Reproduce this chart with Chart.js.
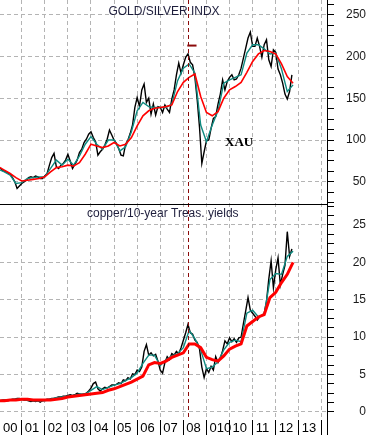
<!DOCTYPE html>
<html>
<head>
<meta charset="utf-8">
<script src="https://cdn.jsdelivr.net/npm/chart.js@4.4.1/dist/chart.umd.min.js"></script>
<style>
  html, body { margin: 0; padding: 0; background: #fff; }
</style>
</head>
<body>
<canvas id="grafico" width="373" height="435"></canvas>
<script>
/* ---- data ---- */
const startYear = 2000;
const fineStep = 0.1;    // black price line, one value every 0.1 year
const coarseStep = 0.25; // moving averages, one value per quarter

const yearTicks  = [2000, 2001, 2002, 2003, 2004, 2005, 2006, 2007, 2008, 2009, 2010, 2011, 2012, 2013, 2014];
const yearLabels = ['00', '01', '02', '03', '04', '05', '06', '07', '08', '010', '10', '11', '12', '13', ''];

const topTickLabels = [50, 100, 150, 200, 250];
const bottomTickLabels = [0, 5, 10, 15, 20, 25];

// XAU gold/silver index
const xauPrice = [
  66, 66, 63, 62, 61, 59, 55, 50, 42, 45,
  48, 50, 52, 55, 56, 55, 57, 56, 54, 54,
  57, 60, 70, 79, 84, 68, 66, 70, 72, 76,
  83, 75, 66, 71, 76, 85, 89, 97, 101, 107,
  110, 103, 98, 82, 86, 89, 94, 101, 112, 106,
  100, 96, 90, 82, 81, 95, 100, 108, 118, 139,
  151, 140, 160, 167, 145, 150, 131, 143, 130, 140,
  139, 133, 142, 137, 133, 149, 160, 178, 192, 180,
  190, 199, 203, 193, 190, 175, 148, 115, 72, 86,
  99, 100, 114, 126, 128, 143, 155, 172, 160, 170,
  175, 178, 172, 173, 178, 186, 198, 210, 222, 229,
  212, 212, 222, 212, 199, 214, 220, 196, 188, 208,
  205, 185, 178, 168, 155, 149, 158, 178
];
const xauShortAvg = [
  65, 62, 58, 48, 49, 54, 55, 56, 56, 66,
  76, 70, 77, 70, 81, 95, 104, 95, 89, 100,
  100, 87, 92, 110, 135, 145, 140, 139, 139, 139,
  143, 171, 186, 191, 180, 118, 98, 118, 135, 168,
  172, 175, 178, 204, 214, 214, 209, 203, 204, 185,
  158, 166
];
const xauLongAvg = [
  68, 64, 60, 55, 51, 52, 53, 54, 56, 62,
  67, 68, 70, 69, 73, 83, 95, 93, 91, 93,
  97, 93, 95, 103, 117, 129, 135, 138, 139, 140,
  142, 158, 169, 175, 179, 152, 133, 129, 134, 150,
  160, 164, 169, 181, 194, 203, 207, 206, 203, 191,
  176, 168
];

// copper / 10-year Treasury yield ratio
const copperRatio = [
  1.5, 1.5, 1.6, 1.6, 1.5, 1.6, 1.7, 1.7, 1.8, 1.8,
  1.7, 1.6, 1.6, 1.5, 1.4, 1.5, 1.4, 1.5, 1.3, 1.5,
  1.6, 1.7, 1.7, 1.8, 1.8, 1.9, 2.0, 2.0, 2.1, 2.1,
  2.2, 2.3, 2.2, 2.3, 2.5, 2.4, 2.3, 2.4, 2.5, 2.8,
  3.2, 3.8, 4.0, 3.1, 2.8, 3.1, 3.3, 3.2, 3.4, 3.6,
  3.6, 3.7, 3.9, 3.8, 4.3, 4.2, 4.6, 4.4, 5.1, 5.0,
  5.6, 5.4, 6.0, 8.1, 9.0, 7.6, 7.9, 7.5, 7.7, 6.8,
  5.6, 5.2, 6.6, 7.4, 7.0, 7.8, 7.6, 8.1, 7.8, 8.6,
  9.6, 10.6, 11.7, 10.6, 10.4, 9.6, 9.3, 8.4, 6.0, 4.6,
  5.8, 5.3, 6.1, 5.6, 7.4, 6.6, 7.2, 8.2, 9.5, 9.1,
  9.9, 9.4, 9.8, 9.3, 9.9, 10.0, 11.8, 13.5, 15.3, 13.6,
  13.2, 12.8, 12.3, 12.7, 12.9, 13.2, 14.8, 17.8, 20.2, 16.6,
  19.0, 20.6, 17.0, 18.4, 19.6, 24.1, 20.8, 21.8
];
const copperShortAvg = [
  1.5, 1.6, 1.6, 1.7, 1.7, 1.6, 1.5, 1.5, 1.5, 1.7,
  1.9, 2.0, 2.1, 2.2, 2.4, 2.4, 2.9, 3.4, 3.0, 3.3,
  3.6, 3.8, 4.2, 4.6, 5.2, 6.5, 7.6, 7.6, 6.2, 7.0,
  7.5, 7.8, 8.6, 10.9, 9.8, 8.3, 5.8, 6.0, 6.7, 8.3,
  9.3, 9.6, 9.4, 13.2, 13.6, 12.7, 13.0, 17.7, 18.5, 18.4,
  20.8, 21.5
];
const copperLongAvg = [
  1.5, 1.5, 1.6, 1.6, 1.7, 1.7, 1.6, 1.6, 1.6, 1.6,
  1.7, 1.8, 2.0, 2.1, 2.2, 2.3, 2.4, 2.5, 2.6, 2.9,
  3.1, 3.4, 3.7, 4.0, 4.4, 4.8, 6.3, 6.6, 6.5, 6.8,
  7.3, 7.6, 7.9, 9.1, 9.1, 8.6, 7.3, 7.0, 6.8, 7.5,
  8.4, 8.8, 9.1, 11.5, 12.1, 12.7, 13.0, 15.3, 16.0, 17.3,
  18.4, 20.0
];

// 2008 peak marker
const markerYear = 2008.2;
const peakBarYears = [2008.17, 2008.57];
const peakBarLevel = 213;

/* ---- cores ---- */
const cores = {
  preto: '#000000', teal: '#0e8a80', vermelho: '#ff0000',
  vinho: '#8b0a0a', grade: '#b4b4b4', texto: '#1a1a1a', titulo: '#1e1e3c'
};

const pontos = (vals, step) => vals.map((v, i) => ({ x: startYear + i * step, y: v }));

function quarterTicks(scale, labels) {
  const step = (labels[1] - labels[0]) / 4;
  const ticks = [];
  let v = labels[0];
  while (v - step >= scale.min) v -= step;
  for (; v <= scale.max + 1e-9; v += step) ticks.push({ value: +v.toFixed(4) });
  scale.ticks = ticks;
}

function eixoY(labels, min, max, weight) {
  return {
    type: 'linear', position: 'right', stack: 'paineis', stackWeight: weight,
    min: min, max: max,
    afterBuildTicks: s => quarterTicks(s, labels),
    afterFit: s => { s.width = 39; s.paddingTop = 0; s.paddingBottom = 0; },
    grid: {
      color: c => labels.includes(c.tick.value) ? cores.grade : 'rgba(0,0,0,0)',
      tickColor: cores.preto, tickLength: 7, lineWidth: 1
    },
    border: { display: false, dash: [4, 3] },
    ticks: {
      autoSkip: false,
      callback: v => labels.includes(v) ? String(v) : '',
      crossAlign: 'far', padding: 0,
      color: cores.texto, font: { family: 'Liberation Sans', size: 12 }
    }
  };
}

/* ---- moldura, textos e linha vertical de 2008 ---- */
const moldura = {
  id: 'moldura',
  afterDatasetsDraw(chart) {
    const { ctx, chartArea: a, scales } = chart;
    ctx.save();
    // linha vertical tracejada em 2008
    const xm = Math.round(scales.x.getPixelForValue(markerYear)) + 0.5;
    ctx.strokeStyle = cores.vinho; ctx.lineWidth = 1; ctx.setLineDash([4, 3]);
    ctx.beginPath(); ctx.moveTo(xm, a.top); ctx.lineTo(xm, a.bottom); ctx.stroke();
    ctx.setLineDash([]);
    // separador entre os painéis e eixo direito
    ctx.strokeStyle = cores.preto;
    const ys = Math.round(scales.yTop.bottom) + 0.5;
    ctx.beginPath(); ctx.moveTo(0, ys); ctx.lineTo(a.right, ys); ctx.stroke();
    const xr = Math.round(a.right) + 0.5;
    ctx.beginPath(); ctx.moveTo(xr, 0); ctx.lineTo(xr, chart.height); ctx.stroke();
    // textos
    ctx.textBaseline = 'middle';
    ctx.fillStyle = cores.titulo;
    ctx.font = '12px "Liberation Sans"';
    ctx.textAlign = 'center';
    ctx.fillText('GOLD/SILVER INDX', 164, 12);
    ctx.textAlign = 'left';
    ctx.fillText('copper/10-year Treas. yields', 87, 214);
    ctx.fillStyle = cores.preto;
    ctx.font = 'bold 13px "Liberation Serif"';
    ctx.fillText('XAU', 225, 143);
    ctx.restore();
  }
};

new Chart(document.getElementById('grafico'), {
  type: 'line',
  data: {
    datasets: [
      { data: pontos(xauLongAvg, coarseStep), yAxisID: 'yTop', borderColor: cores.vermelho, borderWidth: 1.6, order: 0 },
      { data: pontos(xauShortAvg, coarseStep), yAxisID: 'yTop', borderColor: cores.teal, borderWidth: 1.4, order: 1 },
      { data: pontos(xauPrice, fineStep), yAxisID: 'yTop', borderColor: cores.preto, borderWidth: 1.4, order: 2 },
      { data: peakBarYears.map(x => ({ x: x, y: peakBarLevel })), yAxisID: 'yTop', borderColor: cores.vinho, borderWidth: 2, order: 0 },
      { data: pontos(copperLongAvg, coarseStep), yAxisID: 'yBottom', borderColor: cores.vermelho, borderWidth: 3, order: 0 },
      { data: pontos(copperShortAvg, coarseStep), yAxisID: 'yBottom', borderColor: cores.teal, borderWidth: 1.4, order: 1 },
      { data: pontos(copperRatio, fineStep), yAxisID: 'yBottom', borderColor: cores.preto, borderWidth: 1.4, order: 2 }
    ]
  },
  options: {
    responsive: false,
    animation: false,
    events: [],
    layout: { padding: { left: 0, right: 7, top: 0, bottom: 0 } },
    elements: { point: { radius: 0 }, line: { tension: 0 } },
    plugins: { legend: { display: false }, tooltip: { enabled: false } },
    scales: {
      x: {
        type: 'linear', position: 'bottom', min: 2000.06, max: 2014.22,
        afterBuildTicks: s => { s.ticks = yearTicks.map(v => ({ value: Math.max(v, s.min) })); },
        afterFit: s => { s.height = 15; s.paddingLeft = 0; s.paddingRight = 0; },
        grid: {
          color: c => c.index === 0 ? 'rgba(0,0,0,0)' : cores.grade,
          tickColor: c => c.index === 0 ? 'rgba(0,0,0,0)' : cores.preto,
          tickLength: 15, lineWidth: 1
        },
        border: { display: false, dash: [4, 3] },
        ticks: {
          autoSkip: false, maxRotation: 0, minRotation: 0,
          align: 'start', labelOffset: 3, padding: -14,
          callback: (v, i) => yearLabels[i],
          color: cores.preto, font: { family: 'Liberation Sans', size: 13 }
        }
      },
      yTop: eixoY(topTickLabels, 23.5, 267.5, 204),
      yBottom: eixoY(bottomTickLabels, -1.07, 27.8, 216)
    }
  },
  plugins: [moldura]
});
</script>
</body>
</html>
